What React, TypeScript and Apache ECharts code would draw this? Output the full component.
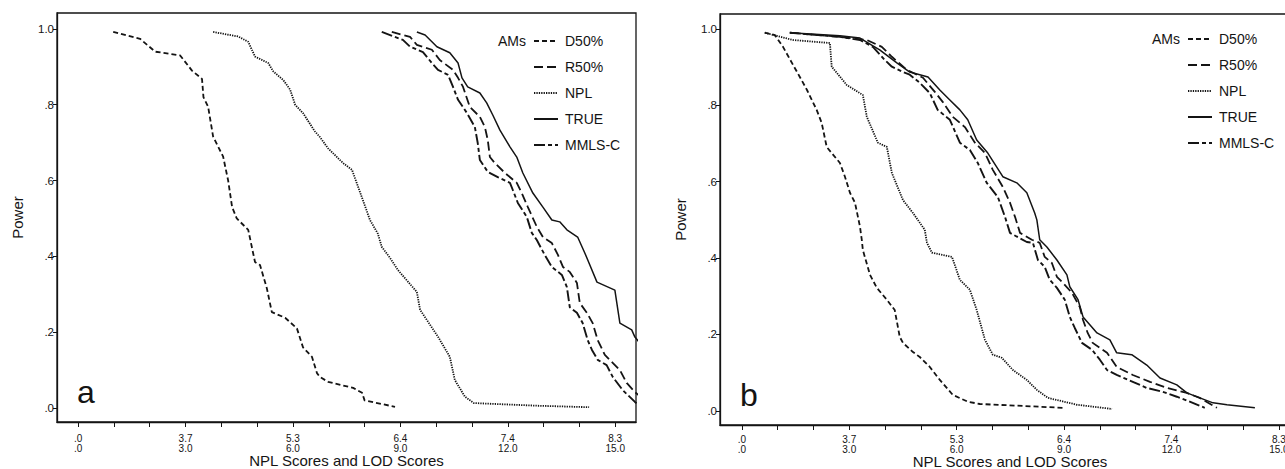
import React, { useEffect, useRef } from 'react';
import * as echarts from 'echarts';

const FONT = '"Liberation Sans", Arial, Helvetica, sans-serif';
const INK = '#141414';

const SERIES_NAMES = ['D50%', 'R50%', 'NPL', 'TRUE', 'MMLS-C'];
const LOD_TICK_VALUES = [0, 3, 6, 9, 12, 15];
const NPL_TICK_LABELS = ['.0', '3.7', '5.3', '6.4', '7.4', '8.3'];
const LOD_TICK_LABELS = ['.0', '3.0', '6.0', '9.0', '12.0', '15.0'];
const MINOR_TICK_VALUES = [0, 1, 2, 3, 4, 5, 6, 7, 8, 9, 10, 11, 12, 13, 14, 15];
const POWER_TICK_VALUES = [0, 0.2, 0.4, 0.6, 0.8, 1.0];
const POWER_TICK_LABELS = ['.0', '.2', '.4', '.6', '.8', '1.0'];

// Panel a
const aD50 = [[0.98, 0.992], [1.73, 0.974], [2.15, 0.94], [2.85, 0.93], [3.18, 0.89], [3.46, 0.868], [3.5, 0.82], [3.63, 0.795], [3.77, 0.716], [4.05, 0.663], [4.19, 0.6], [4.3, 0.53], [4.43, 0.5], [4.75, 0.47], [4.94, 0.385], [5.08, 0.377], [5.27, 0.316], [5.41, 0.253], [5.78, 0.238], [6.11, 0.21], [6.28, 0.16], [6.53, 0.135], [6.67, 0.092], [6.75, 0.082], [6.98, 0.069], [7.68, 0.053], [7.93, 0.04], [8.0, 0.02], [8.85, 0.003]];
const aR50 = [[8.76, 0.992], [9.27, 0.979], [9.46, 0.958], [9.88, 0.945], [10.1, 0.918], [10.47, 0.892], [10.61, 0.871], [10.75, 0.847], [10.94, 0.794], [11.22, 0.768], [11.36, 0.741], [11.44, 0.707], [11.5, 0.662], [11.64, 0.646], [11.92, 0.62], [12.25, 0.594], [12.39, 0.567], [12.56, 0.53], [12.81, 0.478], [12.98, 0.451], [13.23, 0.435], [13.4, 0.404], [13.54, 0.372], [13.73, 0.359], [13.93, 0.33], [14.01, 0.277], [14.21, 0.251], [14.37, 0.224], [14.51, 0.179], [14.71, 0.14], [14.93, 0.119], [15.13, 0.1], [15.32, 0.066], [15.55, 0.042], [15.7, 0.03]];
const aNPL = [[3.77, 0.992], [4.47, 0.98], [4.75, 0.966], [4.94, 0.927], [5.31, 0.91], [5.45, 0.888], [5.73, 0.865], [5.92, 0.84], [6.06, 0.8], [6.28, 0.778], [6.61, 0.73], [6.75, 0.715], [6.98, 0.685], [7.4, 0.646], [7.65, 0.628], [7.95, 0.549], [8.15, 0.496], [8.37, 0.46], [8.48, 0.425], [8.71, 0.396], [8.93, 0.364], [9.46, 0.306], [9.55, 0.259], [10.05, 0.188], [10.38, 0.135], [10.52, 0.074], [10.8, 0.03], [11.05, 0.013], [12.8, 0.006], [14.27, 0.002]];
const aTRUE = [[9.46, 0.992], [9.69, 0.984], [10.02, 0.953], [10.38, 0.937], [10.61, 0.91], [10.72, 0.871], [10.88, 0.847], [11.22, 0.831], [11.41, 0.805], [11.58, 0.773], [11.78, 0.733], [12.06, 0.689], [12.25, 0.662], [12.42, 0.62], [12.7, 0.567], [12.98, 0.53], [13.23, 0.496], [13.45, 0.491], [13.65, 0.47], [13.95, 0.451], [14.15, 0.409], [14.23, 0.391], [14.49, 0.332], [14.99, 0.311], [15.13, 0.224], [15.46, 0.206], [15.55, 0.187], [15.7, 0.17]];
const aMMLS = [[8.48, 0.992], [9.07, 0.971], [9.27, 0.953], [9.63, 0.939], [9.88, 0.91], [10.05, 0.892], [10.33, 0.879], [10.47, 0.847], [10.61, 0.813], [10.86, 0.778], [11.08, 0.741], [11.16, 0.699], [11.22, 0.654], [11.44, 0.623], [11.72, 0.609], [12.06, 0.594], [12.14, 0.575], [12.28, 0.541], [12.53, 0.504], [12.67, 0.462], [12.81, 0.443], [13.03, 0.404], [13.23, 0.372], [13.51, 0.351], [13.65, 0.319], [13.73, 0.266], [13.93, 0.251], [14.09, 0.224], [14.23, 0.179], [14.35, 0.153], [14.51, 0.127], [14.76, 0.113], [14.93, 0.082], [15.21, 0.047], [15.55, 0.016], [15.7, 0.005]];

// Panel b
const bD50 = [[0.64, 0.99], [0.92, 0.984], [1.15, 0.953], [1.62, 0.874], [1.82, 0.84], [2.09, 0.788], [2.23, 0.754], [2.37, 0.691], [2.51, 0.675], [2.74, 0.649], [2.88, 0.613], [3.02, 0.571], [3.16, 0.545], [3.3, 0.482], [3.35, 0.448], [3.38, 0.421], [3.58, 0.356], [3.77, 0.322], [4.05, 0.291], [4.27, 0.264], [4.41, 0.194], [4.5, 0.178], [4.78, 0.154], [4.97, 0.141], [5.25, 0.115], [5.53, 0.081], [5.89, 0.042], [6.31, 0.024], [6.65, 0.018], [8.97, 0.008]];
const bR50 = [[1.34, 0.99], [2.74, 0.979], [3.49, 0.971], [3.91, 0.953], [4.19, 0.927], [4.61, 0.893], [5.06, 0.872], [5.39, 0.835], [5.61, 0.809], [5.89, 0.77], [6.23, 0.743], [6.51, 0.702], [6.79, 0.675], [7.01, 0.631], [7.29, 0.586], [7.49, 0.545], [7.63, 0.508], [7.77, 0.466], [8.1, 0.448], [8.32, 0.44], [8.46, 0.403], [8.66, 0.387], [8.8, 0.351], [8.97, 0.335], [9.22, 0.309], [9.44, 0.272], [9.53, 0.238], [9.66, 0.204], [9.8, 0.178], [10.2, 0.152], [10.47, 0.115], [10.92, 0.094], [11.4, 0.076], [11.87, 0.06], [12.43, 0.047], [12.79, 0.034], [13.27, 0.008]];
const bNPL = [[0.64, 0.99], [1.42, 0.971], [2.46, 0.963], [2.51, 0.901], [2.82, 0.866], [2.93, 0.853], [3.38, 0.827], [3.49, 0.77], [3.8, 0.702], [4.05, 0.691], [4.19, 0.623], [4.5, 0.552], [4.78, 0.518], [5.11, 0.474], [5.17, 0.44], [5.31, 0.414], [5.87, 0.403], [6.09, 0.343], [6.37, 0.317], [6.56, 0.264], [6.79, 0.186], [7.01, 0.147], [7.26, 0.139], [7.57, 0.107], [7.96, 0.081], [8.24, 0.055], [8.55, 0.034], [9.36, 0.016], [10.34, 0.005]];
const bTRUE = [[1.34, 0.99], [2.74, 0.982], [3.3, 0.976], [3.85, 0.945], [4.33, 0.911], [4.69, 0.887], [5.2, 0.874], [5.53, 0.84], [5.81, 0.814], [6.09, 0.788], [6.31, 0.762], [6.56, 0.709], [6.87, 0.675], [7.29, 0.613], [7.68, 0.597], [7.96, 0.571], [8.18, 0.518], [8.24, 0.5], [8.32, 0.448], [8.52, 0.429], [8.8, 0.395], [9.08, 0.356], [9.16, 0.325], [9.39, 0.291], [9.53, 0.246], [9.92, 0.204], [10.28, 0.186], [10.47, 0.152], [10.89, 0.147], [11.31, 0.12], [11.68, 0.086], [12.15, 0.068], [12.43, 0.047], [12.79, 0.034], [13.16, 0.021], [13.55, 0.016], [14.33, 0.008]];
const bMMLS = [[1.34, 0.99], [2.74, 0.979], [3.3, 0.971], [3.66, 0.953], [3.99, 0.919], [4.19, 0.901], [4.5, 0.887], [4.69, 0.88], [4.97, 0.859], [5.25, 0.832], [5.47, 0.788], [5.81, 0.762], [6.09, 0.702], [6.37, 0.683], [6.59, 0.649], [6.84, 0.597], [7.15, 0.56], [7.35, 0.508], [7.49, 0.466], [7.96, 0.442], [8.13, 0.44], [8.27, 0.395], [8.46, 0.377], [8.6, 0.343], [8.8, 0.322], [9.02, 0.291], [9.16, 0.246], [9.3, 0.217], [9.5, 0.178], [9.78, 0.16], [10.0, 0.134], [10.2, 0.107], [10.47, 0.094], [10.92, 0.076], [11.31, 0.06], [11.76, 0.05], [12.15, 0.037], [12.51, 0.024], [12.93, 0.008]];

const PANEL_A = [aD50, aR50, aNPL, aTRUE, aMMLS];
const PANEL_B = [bD50, bR50, bNPL, bTRUE, bMMLS];

const LINE_STYLES: Record<string, { type: any; width: number }> = {
  'D50%': { type: [5, 3], width: 1.8 },
  'R50%': { type: [9, 4], width: 1.8 },
  'NPL': { type: [1.3, 1.1], width: 1.8 },
  'TRUE': { type: 'solid', width: 1.5 },
  'MMLS-C': { type: [11, 3, 4, 3], width: 1.9 },
};

function xAxisFor(gridIndex: number, min: number, max: number, labelMargin: number, nameGap: number) {
  return {
    type: 'value',
    gridIndex,
    min,
    max,
    name: 'NPL Scores and LOD Scores',
    nameLocation: 'middle',
    nameGap,
    nameMoveOverlap: false,
    nameTextStyle: { fontFamily: FONT, fontSize: 15, lineHeight: 15, color: INK },
    axisLine: { show: true, onZero: false, lineStyle: { color: INK, width: 1.3 } },
    axisTick: { show: true, length: 5, customValues: MINOR_TICK_VALUES, lineStyle: { color: INK, width: 1 } },
    axisLabel: {
      customValues: LOD_TICK_VALUES,
      margin: labelMargin,
      fontFamily: FONT,
      fontSize: 10,
      lineHeight: 10,
      color: INK,
      formatter: (v: number) => {
        const i = LOD_TICK_VALUES.indexOf(Math.round(v));
        return i < 0 ? '' : NPL_TICK_LABELS[i] + '\n' + LOD_TICK_LABELS[i];
      },
    },
    splitLine: { show: false },
  };
}

function yAxisFor(gridIndex: number, min: number, max: number) {
  return {
    type: 'value',
    gridIndex,
    min,
    max,
    name: 'Power',
    nameLocation: 'middle',
    nameGap: 32,
    nameMoveOverlap: false,
    nameTextStyle: { fontFamily: FONT, fontSize: 15, color: INK },
    axisLine: { show: true, onZero: false, lineStyle: { color: INK, width: 1.3 } },
    axisTick: { show: true, length: 4, customValues: POWER_TICK_VALUES, lineStyle: { color: INK, width: 1 } },
    axisLabel: {
      customValues: POWER_TICK_VALUES,
      margin: 3,
      fontFamily: FONT,
      fontSize: 11.5,
      color: INK,
      formatter: (v: number) => {
        const i = POWER_TICK_VALUES.findIndex((t) => Math.abs(t - v) < 1e-6);
        return i < 0 ? '' : POWER_TICK_LABELS[i];
      },
    },
    splitLine: { show: false },
  };
}

function legendFor(left: number, top: number) {
  return {
    orient: 'vertical',
    left,
    top,
    padding: 0,
    itemWidth: 24,
    itemHeight: 14,
    itemGap: 12,
    selectedMode: false,
    itemStyle: { opacity: 0 },
    textStyle: { fontFamily: FONT, fontSize: 14, color: INK, padding: [0, 0, 0, 2] },
    data: SERIES_NAMES,
  };
}

export default function App() {
  const ref = useRef<HTMLDivElement>(null);
  useEffect(() => {
    if (!ref.current) return;
    const chart = echarts.init(ref.current, null, { renderer: 'svg' });
    const series: any[] = [];
    [PANEL_A, PANEL_B].forEach((panel, p) => {
      panel.forEach((data, k) => {
        const name = SERIES_NAMES[k];
        series.push({
          type: 'line',
          name,
          xAxisIndex: p,
          yAxisIndex: p,
          data,
          symbol: 'none',
          smooth: false,
          clip: true,
          lineStyle: { color: INK, ...LINE_STYLES[name] },
          itemStyle: { color: INK },
        });
      });
    });
    chart.setOption({
      animation: false,
      backgroundColor: '#ffffff',
      grid: [
        { left: 57, top: 13, width: 579, height: 409, outerBoundsMode: 'none', containLabel: false, show: true, borderColor: INK, borderWidth: 1.3, backgroundColor: 'transparent' },
        { left: 720, top: 14, width: 580, height: 411, outerBoundsMode: 'none', containLabel: false, show: true, borderColor: INK, borderWidth: 1.3, backgroundColor: 'transparent' },
      ],
      xAxis: [xAxisFor(0, -0.59, 15.58, 11, 31), xAxisFor(1, -0.61, 15.59, 9, 29)],
      yAxis: [yAxisFor(0, -0.037, 1.042), yAxisFor(1, -0.037, 1.039)],
      legend: [legendFor(533, 34), legendFor(1187, 32)],
      graphic: [
        { type: 'text', x: 498, y: 41, style: { text: 'AMs', fontFamily: FONT, fontSize: 14, fill: INK, verticalAlign: 'middle' } },
        { type: 'text', x: 1152, y: 39, style: { text: 'AMs', fontFamily: FONT, fontSize: 14, fill: INK, verticalAlign: 'middle' } },
        { type: 'text', x: 77, y: 392, style: { text: 'a', fontFamily: FONT, fontSize: 32, fill: INK, verticalAlign: 'middle' } },
        { type: 'text', x: 740, y: 395, style: { text: 'b', fontFamily: FONT, fontSize: 32, fill: INK, verticalAlign: 'middle' } },
      ],
      series,
    });
    return () => chart.dispose();
  }, []);
  return (
    <div
      ref={ref}
      style={{ position: 'absolute', left: 0, top: 0, width: 1285, height: 469, overflow: 'hidden' }}
    />
  );
}
